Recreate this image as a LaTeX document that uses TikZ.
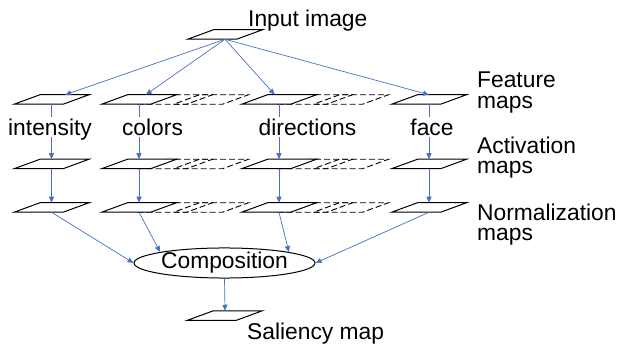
\documentclass[tikz,border=0pt]{standalone}
\usepackage{fontspec}
\setmainfont{Liberation Sans}
\usetikzlibrary{arrows.meta,shapes.geometric}
\definecolor{linkblue}{RGB}{68,114,196}

\tikzset{
  mapbox/.style={minimum width=75pt, minimum height=9.5pt, inner sep=0pt, outer sep=0pt},
  mapline/.style={draw=black, line width=1pt, fill=white},
  ghostline/.style={draw=black, line width=0.9pt, dash pattern=on 6pt off 3pt},
  link/.style={draw=linkblue, line width=0.7pt, -{Triangle[length=6pt,width=5pt]}},
  lbl/.style={inner sep=0pt, align=left},
  kind/.style={fill=white, inner xsep=0pt, inner ysep=2pt, text depth=0pt, anchor=base},
}

% one map = named box + parallelogram outline
\newcommand\mapat[3]{%
  \node[mapbox] (#1) at (#2,#3) {};
  \draw[mapline] (#1.south west) -- ++(49,0) -- (#1.north east) -- ++(-49,0) -- cycle;
}

\begin{document}
\begin{tikzpicture}[x=1pt, y=-1pt, font=\fontsize{22.8}{20.6}\selectfont]
  \useasboundingbox (0,0) rectangle (620,347);

  % stacked copies behind colors and directions
  \foreach \r in {99.5,164,207.5} {
    \foreach \x in {139,279} {
      \foreach \s in {72,36} {
        \draw[ghostline] (\x+\s-37.5,\r+4.75) -- ++(49,0) -- ++(26,-9.5) -- ++(-49,0) -- cycle;
      }
    }
  }

  % maps
  \mapat{in}{225}{34.5}
  \foreach \i/\x in {1/51.5, 2/139, 3/279, 4/429} {
    \mapat{f\i}{\x}{99.5}
    \mapat{a\i}{\x}{164}
    \mapat{n\i}{\x}{207.5}
  }
  \mapat{out}{225}{315.5}

  \node[ellipse, draw, line width=1pt, minimum width=181pt, minimum height=30pt, inner sep=0pt] (comp) at (224.5,263) {Composition};

  % arrows
  \draw[link] (in.south) -- (f1);
  \draw[link] (in.south) -- (f2);
  \draw[link] (in.south) -- (f3);
  \draw[link] (in.south) -- (f4.north);
  \foreach \i in {1,...,4} {
    \draw[link] (f\i) -- (a\i);
    \draw[link] (a\i) -- (n\i);
  }
  \draw[link] (n1.south) -- (comp.west);
  \draw[link] (n2.south) -- (comp.north west);
  \draw[link] (n3.south) -- (comp.north east);
  \draw[link] (n4.south) -- (comp.east);
  \draw[link] (comp.south) -- (out.north);

  % labels
  \node[kind] (k1) at (50,135.5) {intensity};
  \node[kind] (k2) at (152.5,135.5) {colors};
  \node[kind] (k3) at (307.5,135.5) {directions};
  \node[kind] (k4) at (432,135.5) {face};

  \node[lbl, anchor=base west] (intitle) at (248,26.5) {Input image};
  \node[lbl, anchor=base west] (outtitle) at (247,339.5) {Saliency map};
  \node[lbl, anchor=north west] (featlbl) at (477,71.6) {Feature\\maps};
  \node[lbl, anchor=north west] (actlbl) at (477,136.4) {Activation\\maps};
  \node[lbl, anchor=north west] (normlbl) at (477,203.6) {Normalization\\maps};
\end{tikzpicture}
\end{document}
